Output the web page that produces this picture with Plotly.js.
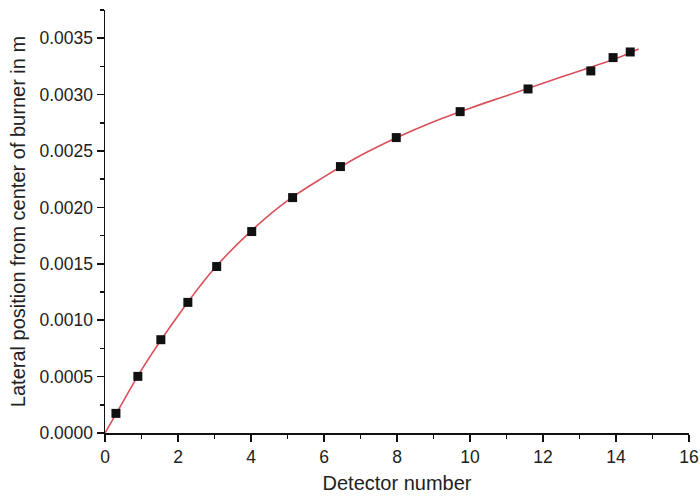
<!DOCTYPE html>
<html>
<head>
<meta charset="utf-8">
<script src="https://cdn.plot.ly/plotly-3.0.1.min.js"></script>
<style>html,body{margin:0;padding:0;background:#fff;}#chart{width:700px;height:500px;}</style>
</head>
<body>
<div id="chart"></div>
<script>
// Measured data points (squares)
const detX = [0.30, 0.90, 1.53, 2.27, 3.06, 4.02, 5.14, 6.45, 7.98, 9.73, 11.59, 13.31, 13.92, 14.39];
const detY = [0.000174, 0.000502, 0.000827, 0.001158, 0.001476, 0.001786, 0.002087, 0.002362, 0.002619, 0.002849, 0.003050, 0.003210, 0.003328, 0.003378];
// Fit curve
const fitX = [0, 0.5, 1, 2, 3, 4, 5, 6, 7, 8, 9, 10, 11, 12, 13, 14, 14.62];
const fitY = [0, 0.00028, 0.00056, 0.00104, 0.00146, 0.00179, 0.00206, 0.00227, 0.00246, 0.00262, 0.00276, 0.00288, 0.00299, 0.00310, 0.00321, 0.00332, 0.003405];

const font = "Liberation Sans, Arial, sans-serif";

const traces = [
  {x: fitX, y: fitY, mode: 'lines', line: {color: '#d9505a', width: 1.6, shape: 'spline'}, hoverinfo: 'skip', showlegend: false},
  {x: detX, y: detY, mode: 'markers', marker: {symbol: 'square', size: 9, color: '#111111'}, showlegend: false}
];

const axisCommon = {
  showgrid: false, zeroline: false, showline: true, linecolor: '#111', linewidth: 1.5,
  ticks: 'outside', ticklen: 7, tickwidth: 1.5, tickcolor: '#111',
  tickfont: {family: font, size: 17.5, color: '#222'},
  mirror: false
};

const layout = {
  width: 700, height: 500,
  margin: {l: 105, r: 11, t: 10, b: 67},
  paper_bgcolor: '#fff', plot_bgcolor: '#fff',
  xaxis: Object.assign({}, axisCommon, {
    range: [0, 16], dtick: 2, tick0: 0,
    minor: {dtick: 1, ticklen: 4, tickwidth: 1.5, tickcolor: '#111', ticks: 'outside'},
    title: {text: 'Detector number', font: {family: font, size: 20, color: '#222'}, standoff: 10}
  }),
  yaxis: Object.assign({}, axisCommon, {
    range: [0, 0.00375], dtick: 0.0005, tick0: 0, tickformat: '.4f',
    minor: {dtick: 0.00025, ticklen: 4, tickwidth: 1.5, tickcolor: '#111', ticks: 'outside'},
    title: {text: 'Lateral position from center of burner in m', font: {family: font, size: 20, color: '#222'}, standoff: 8}
  })
};

Plotly.newPlot('chart', traces, layout, {displayModeBar: false, staticPlot: true});
</script>
</body>
</html>
